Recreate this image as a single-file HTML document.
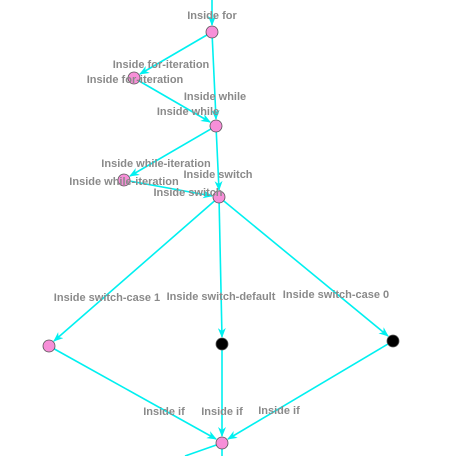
<!DOCTYPE html>
<html><head><style>
html,body{margin:0;padding:0;background:#fff;}
svg text{font-family:"Liberation Sans",sans-serif;font-weight:bold;font-size:11px;fill:#8a8a8a;text-anchor:middle;}
</style></head><body>
<svg width="458" height="456" viewBox="0 0 458 456" xmlns="http://www.w3.org/2000/svg">
<defs>
<marker id="a" markerWidth="10" markerHeight="8" refX="9" refY="4" orient="auto" markerUnits="userSpaceOnUse">
<path d="M0,0 L10,4 L0,8 L3,4 z" fill="#00f0f0"/></marker>
</defs>
<g stroke="#00f0f0" stroke-width="1.6" fill="none" marker-end="url(#a)">
<line x1="212" y1="0" x2="212" y2="25"/>
<line x1="212" y1="32" x2="140" y2="74"/>
<line x1="212" y1="32" x2="216" y2="119"/>
<line x1="134" y1="78" x2="210" y2="122"/>
<line x1="216" y1="126" x2="130" y2="176"/>
<line x1="216" y1="126" x2="219" y2="190"/>
<line x1="124" y1="180" x2="212" y2="196"/>
<line x1="219" y1="197" x2="54" y2="341"/>
<line x1="219" y1="197" x2="222" y2="337"/>
<line x1="219" y1="197" x2="388" y2="336"/>
<line x1="49" y1="346" x2="216" y2="439"/>
<line x1="222" y1="344" x2="222" y2="436"/>
<line x1="393" y1="341" x2="228" y2="439"/>
</g>
<g stroke="#00f0f0" stroke-width="1.6">
<line x1="222" y1="443" x2="222" y2="456"/>
<line x1="222" y1="443" x2="185" y2="456"/>
</g>
<g stroke="#555" stroke-width="0.8">
<circle cx="212" cy="32" r="6" fill="#f78fd8"/>
<circle cx="134" cy="78" r="6" fill="#f78fd8"/>
<circle cx="216" cy="126" r="6" fill="#f78fd8"/>
<circle cx="124" cy="180" r="6" fill="#f78fd8"/>
<circle cx="219" cy="197" r="6" fill="#f78fd8"/>
<circle cx="49" cy="346" r="6" fill="#f78fd8"/>
<circle cx="222" cy="344" r="6" fill="#000"/>
<circle cx="393" cy="341" r="6" fill="#000"/>
<circle cx="222" cy="443" r="6" fill="#f78fd8"/>
</g>
<text x="212" y="19">Inside for</text>
<text x="161" y="68">Inside for-iteration</text>
<text x="135" y="83">Inside for-iteration</text>
<text x="215" y="100">Inside while</text>
<text x="188" y="115">Inside while</text>
<text x="156" y="167">Inside while-iteration</text>
<text x="124" y="185">Inside while-iteration</text>
<text x="218" y="178">Inside switch</text>
<text x="188" y="196">Inside switch</text>
<text x="107" y="301">Inside switch-case 1</text>
<text x="221" y="300">Inside switch-default</text>
<text x="336" y="298">Inside switch-case 0</text>
<text x="164" y="415">Inside if</text>
<text x="222" y="415">Inside if</text>
<text x="279" y="414">Inside if</text>
</svg>
</body></html>
